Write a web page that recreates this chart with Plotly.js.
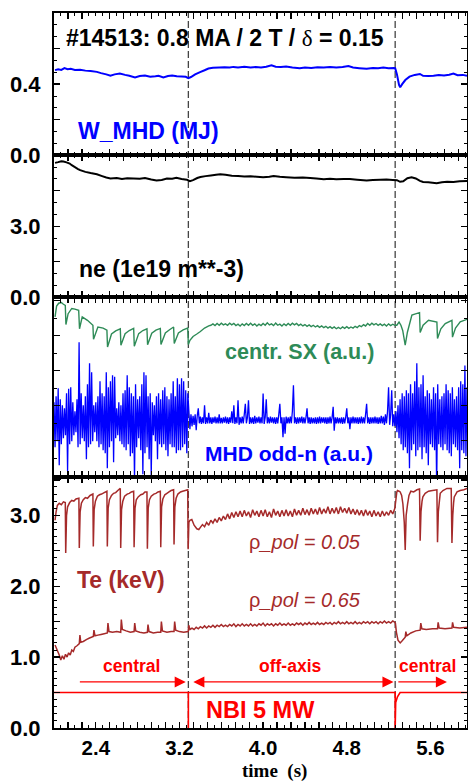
<!DOCTYPE html>
<html>
<head>
<meta charset="utf-8">
<script src="https://cdn.plot.ly/plotly-3.0.1.min.js"></script>
<style>html,body{margin:0;padding:0;background:#fff}#chart{width:468px;height:781px}</style>
</head>
<body>
<div id="chart"></div>
<script>
// ---------------- DATA ----------------
// Phase boundaries (s)
const switchTimes = [3.285, 5.263];

// x-axis tick labels
const xLabelVals = [2.4, 3.2, 4.0, 4.8, 5.6];
const xLabelText = ['2.4', '3.2', '4.0', '4.8', '5.6'];

// Panel 1: W_MHD (MJ)
const wT = [2.01,2.04,2.07,2.10,2.13,2.16,2.20,2.25,2.30,2.35,
  2.41,2.45,2.50,2.54,2.58,2.63,2.68,2.72,2.775,2.82,
  2.87,2.92,2.97,3.00,3.046,3.09,3.13,3.174,3.22,3.26,
  3.285,3.31,3.35,3.397,3.44,3.477,3.52,3.58,3.63,3.68,
  3.716,3.76,3.82,3.88,3.93,3.98,4.03,4.08,4.12,4.17,
  4.22,4.28,4.35,4.40,4.46,4.52,4.58,4.64,4.70,4.76,
  4.816,4.86,4.92,4.99,5.05,5.10,5.15,5.20,5.25,5.263,
  5.28,5.30,5.311,5.33,5.36,5.40,5.45,5.50,5.53,5.58,
  5.63,5.68,5.73,5.78,5.82,5.86,5.91,5.95];
const wV = [0.479,0.484,0.480,0.490,0.484,0.486,0.480,0.481,0.476,0.474,
  0.469,0.462,0.455,0.447,0.455,0.460,0.452,0.447,0.438,0.446,
  0.448,0.442,0.444,0.447,0.438,0.446,0.449,0.445,0.443,0.441,
  0.434,0.440,0.455,0.468,0.478,0.488,0.492,0.494,0.495,0.493,
  0.497,0.494,0.498,0.493,0.497,0.494,0.498,0.506,0.498,0.496,
  0.499,0.494,0.490,0.494,0.491,0.495,0.493,0.497,0.493,0.496,
  0.502,0.494,0.490,0.486,0.491,0.489,0.493,0.490,0.491,0.490,
  0.455,0.395,0.382,0.400,0.423,0.442,0.452,0.457,0.447,0.446,
  0.447,0.452,0.449,0.453,0.460,0.450,0.452,0.447];

// Panel 2: ne (1e19 m^-3)
const neT = [2.01,2.04,2.07,2.09,2.12,2.15,2.17,2.20,2.23,2.25,
  2.30,2.35,2.41,2.46,2.50,2.54,2.60,2.65,2.70,2.76,
  2.82,2.87,2.93,2.98,3.03,3.08,3.13,3.17,3.22,3.27,
  3.30,3.33,3.37,3.40,3.45,3.50,3.55,3.59,3.64,3.70,
  3.76,3.82,3.88,3.94,4.00,4.06,4.10,4.16,4.22,4.30,
  4.38,4.45,4.51,4.58,4.64,4.70,4.77,4.83,4.90,4.99,
  5.05,5.12,5.18,5.24,5.28,5.31,5.34,5.38,5.42,5.46,
  5.50,5.53,5.58,5.62,5.66,5.71,5.76,5.82,5.88,5.95];
const neV = [5.68,5.71,5.75,5.74,5.70,5.65,5.58,5.50,5.42,5.37,
  5.30,5.25,5.20,5.12,5.06,5.02,5.04,5.00,5.03,5.02,
  5.01,5.04,4.98,4.94,4.96,5.02,5.01,5.05,5.00,4.97,
  4.91,4.95,5.04,5.08,5.12,5.15,5.18,5.20,5.18,5.14,
  5.12,5.10,5.11,5.09,5.07,5.09,5.12,5.09,5.07,5.05,
  5.06,5.04,5.02,4.99,5.01,4.99,5.00,5.00,4.97,4.94,
  4.96,4.97,4.98,4.96,4.95,4.88,4.90,5.03,5.07,5.02,
  4.92,4.87,4.86,4.84,4.82,4.86,4.88,4.87,4.90,4.91];

// Panel 3: central SX (a.u.)
const sxEarlyT = [2.010,2.025,2.045,2.070,2.090,2.108,2.114,2.135,2.170,2.200,
  2.236,2.244,2.270,2.320,2.372,2.378,2.420,2.470,2.506,2.512,
  2.550,2.590,2.634,2.640,2.680,2.720,2.762,2.768,2.810,2.850,
  2.889,2.895,2.935,2.975,3.017,3.023,3.065,3.105,3.144,3.150,
  3.190,3.235,3.279,3.285,3.300,3.330,3.366,3.400,3.440,3.480];
const sxEarlyV = [4.54,4.85,4.93,4.95,4.90,4.87,4.32,4.63,4.78,4.76,
  4.73,4.20,4.54,4.44,4.30,3.90,4.25,4.22,4.16,3.68,
  4.05,4.14,4.20,3.73,4.06,4.15,4.21,3.70,4.06,4.15,
  4.20,3.74,4.07,4.16,4.21,3.75,4.08,4.17,4.25,3.78,
  4.08,4.17,4.22,3.75,3.87,3.98,4.05,4.12,4.22,4.28];
const sxMidStart = 3.50, sxMidStep = 0.02;
const sxMidV = [4.30,4.34,4.29,4.35,4.30,4.36,4.31,4.34,4.30,4.36,
  4.31,4.35,4.29,4.33,4.28,4.34,4.29,4.35,4.30,4.36,
  4.30,4.34,4.28,4.33,4.29,4.35,4.30,4.37,4.31,4.34,
  4.29,4.36,4.30,4.33,4.28,4.34,4.29,4.35,4.30,4.36,
  4.31,4.35,4.29,4.33,4.28,4.32,4.27,4.31,4.26,4.30,
  4.25,4.29,4.24,4.28,4.23,4.27,4.22,4.26,4.21,4.25,
  4.20,4.24,4.20,4.25,4.21,4.26,4.21,4.25,4.22,4.27,
  4.23,4.29,4.26,4.32,4.28,4.35,4.30,4.36,4.31,4.35,
  4.30,4.34,4.29,4.33,4.28,4.34,4.29,4.33,4.30];
const sxLateT = [5.265,5.279,5.300,5.318,5.335,5.359,5.380,5.423,5.450,5.496,
  5.502,5.530,5.582,5.662,5.668,5.700,5.742,5.806,5.811,5.840,5.885,5.950];
const sxLateV = [4.30,4.30,4.39,4.30,4.15,3.73,4.10,4.59,4.62,4.66,
  4.09,4.30,4.44,4.39,3.92,4.20,4.35,4.44,3.96,4.22,4.40,4.47];

// Panel 3: MHD odd-n (a.u.), sampled every 0.01 s from 2.00 s
const mhdStart = 2.00, mhdStep = 0.01;
const mhdCentralA = [0.6,-0.9,0.8,-0.7,1.07,-1.5,0.7,-0.8,0.5,-0.6,
  0.4,-0.5,0.9,-1.7,1.05,-0.8,1.1,-0.7,0.6,-0.5,
  0.3,-0.4,0.7,-0.9,2.6,-0.8,0.9,-0.6,0.5,-0.7,
  0.8,-1.3,1.2,-0.9,1.9,-0.8,1.6,-0.7,0.5,-0.4,
  0.6,-0.7,0.8,-0.9,1.3,-0.8,0.9,-1.0,0.8,-1.1,
  1.6,-1.6,1.1,-0.9,1.3,-0.7,1.5,-1.4,1.45,-0.6,
  0.4,-0.5,0.6,-0.7,0.5,-0.8,0.9,-0.9,1.0,-1.0,
  1.5,-0.8,1.1,-1.2,0.9,-1.1,0.8,-2.0,1.2,-0.9,
  0.7,-0.6,0.8,-1.0,1.2,-1.8,1.6,-1.1,1.5,-0.9,
  0.8,-1.3,0.9,-1.85,0.6,-0.5,0.5,-0.7,0.8,-1.3,
  0.9,-0.8,0.7,-0.9,1.0,-0.8,1.1,-1.0,0.8,-1.2,
  0.7,-0.8,0.9,-0.9,1.3,-0.9,0.8,-1.1,1.4,-1.0,
  1.2,-1.0,1.4,-0.9,1.3,-0.8,1.0,-1.1,0.9];
const mhdOffAxis = [0.3,-0.3,0.2,-0.2,0.15,-0.15,0.2,-0.33,0.15,0.4,
  -0.1,0.12,-0.12,0.1,-0.1,0.5,-0.12,0.1,-0.1,0.25,
  -0.1,0.1,-0.12,0.1,-0.08,0.12,-0.1,0.1,-0.1,0.2,
  -0.1,0.08,-0.1,0.1,-0.08,0.12,-0.1,0.1,-0.12,0.1,
  -0.08,0.3,-0.1,0.5,-0.12,0.1,-0.1,0.67,-0.15,0.1,
  -0.1,0.12,-0.1,0.2,0.55,-0.1,0.1,0.67,-0.12,0.1,
  -0.1,0.1,-0.12,0.15,-0.1,0.1,-0.08,0.12,-0.1,0.1,
  -0.1,0.89,-0.12,0.1,0.7,-0.1,0.1,-0.1,0.12,-0.08,
  0.1,-0.1,0.1,-0.12,0.1,-0.1,0.2,0.55,-0.1,0.1,
  -0.56,0.1,-0.45,0.12,-0.1,0.1,-0.1,0.12,-0.1,0.3,
  1.17,-0.1,0.1,-0.12,0.1,-0.1,0.1,-0.08,0.12,-0.1,
  0.1,-0.1,0.1,0.4,-0.1,0.1,-0.12,0.1,-0.1,0.08,
  -0.1,0.1,-0.12,0.1,-0.1,0.12,-0.1,0.1,-0.08,0.1,
  -0.1,0.1,-0.12,0.1,-0.1,0.12,-0.1,0.1,0.45,-0.35,
  0.1,-0.1,0.1,-0.1,0.08,-0.1,0.1,-0.12,0.1,-0.1,
  0.1,0.4,-0.1,0.1,-0.3,0.1,-0.1,0.12,-0.1,0.1,
  -0.1,0.1,-0.12,0.1,-0.1,0.12,-0.1,0.1,-0.1,0.2,
  0.55,-0.1,0.1,-0.12,0.1,-0.1,0.1,-0.1,0.12,-0.1,
  0.1,-0.12,0.1,-0.1,0.15,-0.1,0.12,-0.15,0.2,-0.1,
  0.3,1.1,-0.15,0.2,1.0,-0.2,0.2,-0.2];
const mhdCentralB = [0.3,-0.4,0.5,-0.6,0.7,-0.8,0.9,-1.0,0.8,-0.9,
  1.0,-1.1,0.9,-1.6,1.2,-1.0,0.9,-0.8,1.3,-1.2,
  1.9,-1.0,1.1,-0.9,1.2,-1.3,1.5,-0.9,0.8,-1.1,
  1.0,-1.5,0.9,-0.8,0.7,-0.9,1.1,-1.0,0.9,-2.3,
  1.2,-0.8,0.7,-0.9,0.8,-1.0,0.9,-0.8,1.2,-1.0,
  1.0,-1.1,0.9,-1.2,1.1,-0.8,0.7,-0.9,0.8,-1.0,
  1.1,-1.6,1.3,-1.0,1.2,-1.1,1.83,-1.2,1.1];

// Panel 4: Te (keV) at rho_pol = 0.05
const te05EarlyT = [2.010,2.020,2.032,2.050,2.070,2.090,2.108,2.112,
  2.120,2.130,2.150,2.170,2.190,2.210,2.238,2.242,
  2.250,2.262,2.280,2.300,2.320,2.345,2.372,2.376,
  2.384,2.396,2.415,2.435,2.455,2.480,2.506,2.510,
  2.518,2.530,2.550,2.570,2.590,2.610,2.634,2.638,
  2.646,2.658,2.675,2.700,2.720,2.740,2.762,2.766,
  2.775,2.787,2.805,2.830,2.850,2.870,2.889,2.893,
  2.901,2.913,2.930,2.955,2.975,2.995,3.017,3.021,
  3.029,3.041,3.060,3.080,3.100,3.120,3.144,3.148,
  3.156,3.168,3.185,3.210,3.230,3.255,3.279,3.283,
  3.290,3.300,3.318,3.340,3.366,3.385];
const te05EarlyV = [2.93,3.05,3.14,3.17,3.15,3.19,3.18,2.47,
  3.00,3.12,3.18,3.21,3.20,3.23,3.24,2.54,
  3.05,3.17,3.22,3.25,3.24,3.28,3.30,2.56,
  3.08,3.20,3.27,3.29,3.30,3.32,3.34,2.56,
  3.10,3.22,3.28,3.31,3.32,3.35,3.38,2.54,
  3.08,3.20,3.27,3.30,3.31,3.33,3.34,2.55,
  3.10,3.22,3.26,3.29,3.30,3.33,3.33,2.53,
  3.10,3.22,3.27,3.30,3.31,3.33,3.34,2.55,
  3.12,3.23,3.29,3.31,3.33,3.35,3.36,2.59,
  3.12,3.24,3.30,3.33,3.34,3.35,3.36,2.52,
  2.90,2.93,2.94,2.86,2.81,2.80];
const te05MidStart = 3.40, te05MidStep = 0.02;
const te05MidV = [2.83,2.87,2.84,2.90,2.86,2.93,2.89,2.95,2.90,2.97,
  2.92,2.99,2.94,3.02,2.95,3.04,2.97,3.05,2.98,3.06,
  2.98,3.07,2.99,3.05,2.97,3.08,3.00,3.06,2.98,3.07,
  2.99,3.08,2.98,3.05,2.97,3.09,3.00,3.06,2.98,3.07,
  2.99,3.08,2.99,3.06,2.98,3.09,3.00,3.07,3.00,3.10,
  3.01,3.08,3.00,3.10,3.02,3.09,3.01,3.11,3.02,3.09,
  3.03,3.12,3.02,3.10,3.03,3.11,3.02,3.12,3.04,3.10,
  3.03,3.11,3.02,3.09,3.01,3.08,3.00,3.07,2.99,3.08,
  3.00,3.06,2.98,3.07,2.99,3.05,2.98,3.06,2.99,3.05,
  3.00,3.07,3.02,3.10];
const te05LateT = [5.265,5.279,5.285,5.300,5.311,5.325,5.337,5.350,5.359,5.368,
  5.381,5.395,5.413,5.440,5.471,5.496,5.502,5.510,5.520,5.528,
  5.550,5.582,5.620,5.662,5.668,5.676,5.686,5.694,5.720,5.758,
  5.799,5.806,5.814,5.822,5.828,5.855,5.885,5.920,5.950];
const te05LateV = [3.16,3.33,3.35,3.34,3.33,3.28,3.16,2.90,2.51,3.00,
  3.15,3.28,3.34,3.33,3.36,3.37,2.64,3.05,3.20,3.26,
  3.31,3.34,3.35,3.36,2.62,3.05,3.20,3.31,3.35,3.38,
  3.38,2.61,3.00,3.18,3.26,3.33,3.35,3.36,3.38];

// Panel 4: Te (keV) at rho_pol = 0.65
const te65EarlyT = [2.010,2.030,2.050,2.065,2.080,2.095,2.110,2.125,2.140,2.155,
  2.170,2.185,2.200,2.220,2.242,2.248,2.256,2.280,2.313,2.340,
  2.376,2.382,2.392,2.420,2.450,2.480,2.510,2.516,2.526,2.560,
  2.600,2.638,2.644,2.654,2.690,2.730,2.766,2.772,2.782,2.820,
  2.860,2.893,2.899,2.909,2.950,2.990,3.021,3.027,3.037,3.080,
  3.120,3.148,3.154,3.164,3.200,3.240,3.283,3.289];
const te65EarlyV = [1.17,1.10,1.03,0.96,1.02,0.97,1.04,1.00,1.06,1.03,
  1.10,1.08,1.14,1.16,1.19,1.31,1.21,1.22,1.25,1.27,
  1.29,1.38,1.30,1.31,1.32,1.33,1.34,1.48,1.36,1.35,
  1.36,1.35,1.53,1.39,1.37,1.35,1.36,1.48,1.37,1.35,
  1.34,1.35,1.46,1.36,1.34,1.35,1.35,1.50,1.37,1.35,
  1.36,1.36,1.50,1.38,1.36,1.35,1.36,1.45];
const te65MidStart = 3.30, te65MidStep = 0.02;
const te65MidV = [1.39,1.41,1.39,1.42,1.40,1.43,1.41,1.44,1.41,1.44,
  1.42,1.45,1.42,1.45,1.43,1.46,1.43,1.45,1.43,1.46,
  1.44,1.47,1.43,1.46,1.44,1.47,1.44,1.46,1.44,1.47,
  1.44,1.46,1.44,1.47,1.45,1.48,1.44,1.47,1.45,1.47,
  1.44,1.47,1.45,1.48,1.45,1.47,1.45,1.48,1.45,1.47,
  1.45,1.48,1.46,1.48,1.45,1.48,1.46,1.49,1.46,1.48,
  1.46,1.49,1.46,1.48,1.46,1.49,1.47,1.49,1.46,1.49,
  1.47,1.50,1.47,1.49,1.47,1.50,1.47,1.49,1.47,1.50,
  1.47,1.49,1.47,1.50,1.48,1.50,1.47,1.50,1.48,1.50,
  1.47,1.50,1.48,1.51,1.48,1.50,1.48,1.51,1.49];
const te65LateT = [5.265,5.275,5.290,5.311,5.330,5.359,5.365,5.375,5.413,5.460,
  5.502,5.508,5.518,5.560,5.620,5.668,5.674,5.684,5.740,5.806,
  5.812,5.822,5.880,5.950];
const te65LateV = [1.48,1.35,1.24,1.20,1.23,1.28,1.36,1.30,1.34,1.37,
  1.38,1.48,1.40,1.39,1.40,1.40,1.49,1.41,1.40,1.41,
  1.49,1.42,1.41,1.42];

// Panel 4: NBI power (x0.1, i.e. 5 MW -> 0.5)
const nbiT = [2.00, 3.285, 3.285, 3.285, 5.263, 5.263, 5.268, 5.285, 5.31, 5.95];
const nbiV = [0.5, 0.5, 0.0, 0.5, 0.5, 0.0, 0.36, 0.44, 0.5, 0.5];

// ---------------- BUILD ----------------
const grid = (start, step, n) => Array.from({length: n}, (_, i) => +(start + i * step).toFixed(4));
const mhdV = mhdCentralA.concat(mhdOffAxis, mhdCentralB);
const mhdT = grid(mhdStart, mhdStep, mhdV.length);
const sxT = sxEarlyT.concat(grid(sxMidStart, sxMidStep, sxMidV.length), sxLateT);
const sxV = sxEarlyV.concat(sxMidV, sxLateV);
const te05T = te05EarlyT.concat(grid(te05MidStart, te05MidStep, te05MidV.length), te05LateT);
const te05V = te05EarlyV.concat(te05MidV, te05LateV);
const te65T = te65EarlyT.concat(grid(te65MidStart, te65MidStep, te65MidV.length), te65LateT);
const te65V = te65EarlyV.concat(te65MidV, te65LateV);

const BLUE = '#0000ff', GREEN = '#2e8b57', BROWN = '#a52a2a', RED = '#ff0000';
const SANS = 'Liberation Sans, Arial, sans-serif';

const traces = [
  {x: wT, y: wV, xaxis: 'x', yaxis: 'y', mode: 'lines', line: {color: BLUE, width: 2, simplify: false}},
  {x: neT, y: neV, xaxis: 'x2', yaxis: 'y2', mode: 'lines', line: {color: 'black', width: 2, simplify: false}},
  {x: mhdT, y: mhdV, xaxis: 'x3', yaxis: 'y5', mode: 'lines', line: {color: BLUE, width: 1.3, simplify: false}},
  {x: sxT, y: sxV, xaxis: 'x3', yaxis: 'y3', mode: 'lines', line: {color: GREEN, width: 1.4, simplify: false}},
  {x: nbiT, y: nbiV, xaxis: 'x4', yaxis: 'y4', mode: 'lines', line: {color: RED, width: 1.6, simplify: false}},
  {x: te65T, y: te65V, xaxis: 'x4', yaxis: 'y4', mode: 'lines', line: {color: BROWN, width: 1.5, simplify: false}},
  {x: te05T, y: te05V, xaxis: 'x4', yaxis: 'y4', mode: 'lines', line: {color: BROWN, width: 1.5, simplify: false}}
];

const xMajor = grid(2.0, 0.4 / 3, 30);
const xText = xMajor.map(v => {
  const k = xLabelVals.findIndex(l => Math.abs(l - v) < 1e-3);
  return k >= 0 ? xLabelText[k] : '';
});

const common = {
  showline: true, linecolor: 'black', linewidth: 2, mirror: 'allticks',
  ticks: 'inside', tickcolor: 'black', tickwidth: 1.3, ticklen: 6,
  showgrid: false, zeroline: false, fixedrange: true,
  tickfont: {family: SANS, size: 22, color: 'black', weight: 'bold'}
};
function xAx(anchor, labels) {
  return Object.assign({}, common, {
    anchor: anchor, range: [2.0, 5.95], tickmode: 'array', tickvals: xMajor,
    ticktext: labels ? xText : xMajor.map(() => ''), showticklabels: !!labels,
    ticklabelstandoff: 0,
    tickfont: {family: SANS, size: 20.5, color: 'black', weight: 'bold'},
    minor: {tick0: 2.0, dtick: 0.2 / 3, ticklen: 3, ticks: 'inside', tickcolor: 'black', tickwidth: 1}
  });
}
function yAx(anchor, domain, range, vals, text, minorDtick) {
  return Object.assign({}, common, {
    anchor: anchor, domain: domain, range: range, tickmode: 'array', tickvals: vals, ticktext: text,
    ticklabelstandoff: 7,
    minor: {tick0: 0, dtick: minorDtick, ticklen: 3, ticks: 'inside', tickcolor: 'black', tickwidth: 1}
  });
}

const d4 = 0.3506, d3 = 0.6024, d2 = 0.801;
const layout = {
  width: 468, height: 781, margin: {l: 54, r: 1, t: 13, b: 53},
  paper_bgcolor: 'white', plot_bgcolor: 'white', showlegend: false,
  xaxis: xAx('y', false),
  xaxis2: Object.assign(xAx('y2', false), {matches: 'x'}),
  xaxis3: Object.assign(xAx('y3', false), {matches: 'x'}),
  xaxis4: Object.assign(xAx('y4', true), {matches: 'x'}),
  yaxis: yAx('x', [d2, 1], [0, 0.8], [0, 0.2, 0.4, 0.6, 0.8], ['0.0', '', '0.4', '', ''], 0.2 / 3),
  yaxis2: yAx('x2', [d3, d2], [0, 6], [0, 1.5, 3, 4.5, 6], ['0.0', '', '3.0', '', ''], 0.5),
  yaxis3: yAx('x3', [d4, d3], [-0.05, 5.1], [0, 1, 2, 3, 4, 5], ['', '', '', '', '', ''], 0.5),
  yaxis4: yAx('x4', [0, d4], [0, 3.536], [0, 0.5, 1, 1.5, 2, 2.5, 3, 3.5], ['0.0', '', '1.0', '', '2.0', '', '3.0', ''], 0.1),
  yaxis5: {overlaying: 'y3', anchor: 'x3', range: [-1.9, 4.1], visible: false, fixedrange: true},
  shapes: switchTimes.map(t => ({
    type: 'line', xref: 'x', yref: 'paper', x0: t, x1: t, y0: 0, y1: 1, layer: 'below',
    line: {color: '#444', width: 1.3, dash: '7px,3px'}
  })),
  annotations: [
    {xref: 'x', yref: 'y', x: 3.636, y: 0.657, showarrow: false,
     text: '<b>#14513: 0.8 MA / 2 T / </b><span style="font-family:Liberation Serif">δ</span><b> = 0.15</b>',
     font: {family: SANS, size: 23, color: 'black'}},
    {xref: 'x', yref: 'y', x: 2.904, y: 0.137, showarrow: false, text: '<b>W_MHD (MJ)</b>',
     font: {family: SANS, size: 23, color: BLUE}},
    {xref: 'x2', yref: 'y2', x: 3.024, y: 1.2, showarrow: false, text: '<b>ne (1e19 m**-3)</b>',
     font: {family: SANS, size: 23, color: 'black'}},
    {xref: 'x3', yref: 'y3', x: 4.349, y: 3.535, showarrow: false, text: '<b>centr. SX (a.u.)</b>',
     font: {family: SANS, size: 21.5, color: GREEN}},
    {xref: 'x3', yref: 'y3', x: 4.244, y: 0.628, showarrow: false, text: '<b>MHD odd-n (a.u.)</b>',
     font: {family: SANS, size: 21, color: BLUE}},
    {xref: 'x4', yref: 'y4', x: 2.641, y: 2.083, showarrow: false, text: '<b>Te (keV)</b>',
     font: {family: SANS, size: 23, color: BROWN}},
    {xref: 'x4', yref: 'y4', x: 4.402, y: 2.623, showarrow: false, text: 'ρ<i>_pol = 0.05</i>',
     font: {family: SANS, size: 20, color: BROWN}},
    {xref: 'x4', yref: 'y4', x: 4.402, y: 1.80, showarrow: false, text: 'ρ<i>_pol = 0.65</i>',
     font: {family: SANS, size: 20, color: BROWN}},
    {xref: 'x4', yref: 'y4', x: 2.742, y: 0.87, showarrow: false, text: '<b>central</b>',
     font: {family: SANS, size: 17.5, color: RED}},
    {xref: 'x4', yref: 'y4', x: 4.258, y: 0.87, showarrow: false, text: '<b>off-axis</b>',
     font: {family: SANS, size: 17.5, color: RED}},
    {xref: 'x4', yref: 'y4', x: 5.572, y: 0.87, showarrow: false, text: '<b>central</b>',
     font: {family: SANS, size: 17.5, color: RED}},
    {xref: 'x4', yref: 'y4', x: 3.978, y: 0.25, showarrow: false, text: '<b>NBI 5 MW</b>',
     font: {family: SANS, size: 23.5, color: RED}},
    {xref: 'x4', yref: 'y4', axref: 'x4', ayref: 'y4', x: 3.26, y: 0.65, ax: 2.233, ay: 0.65, text: '',
     showarrow: true, arrowhead: 2, arrowsize: 1.7, arrowwidth: 1.3, arrowcolor: RED},
    {xref: 'x4', yref: 'y4', axref: 'x4', ayref: 'y4', x: 5.247, y: 0.65, ax: 3.318, ay: 0.65, text: '',
     showarrow: true, arrowhead: 2, startarrowhead: 2, arrowside: 'end+start', arrowsize: 1.7, startarrowsize: 1.7,
     arrowwidth: 1.3, arrowcolor: RED},
    {xref: 'x4', yref: 'y4', axref: 'x4', ayref: 'y4', x: 5.758, y: 0.65, ax: 5.279, ay: 0.65, text: '',
     showarrow: true, arrowhead: 2, arrowsize: 1.7, arrowwidth: 1.3, arrowcolor: RED},
    {xref: 'paper', yref: 'paper', x: 0.533, y: -0.0605, xanchor: 'center', yanchor: 'middle', showarrow: false,
     text: '<b>time\u00a0\u00a0(s)</b>',
     font: {family: 'Liberation Serif, Times New Roman, serif', size: 19, color: 'black'}}
  ]
};

Plotly.newPlot('chart', traces, layout, {staticPlot: true, displayModeBar: false});
</script>
</body>
</html>
